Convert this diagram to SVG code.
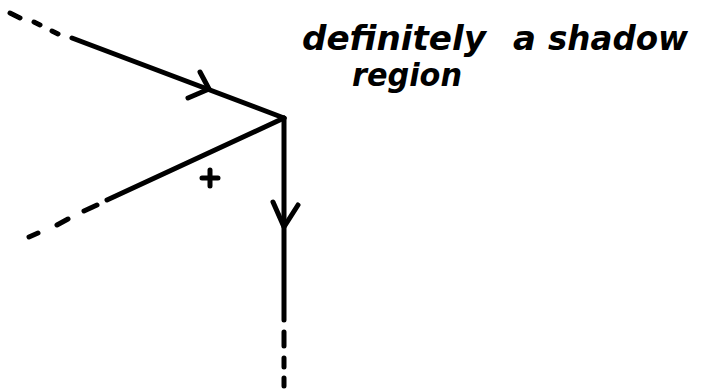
<svg xmlns="http://www.w3.org/2000/svg" width="701" height="390" viewBox="0 0 701 390">
<style>
.ln{stroke:#000;stroke-width:5;fill:none;stroke-linecap:round;stroke-linejoin:round}
.hw{font-family:"DejaVu Sans","Liberation Sans",sans-serif;font-style:italic;font-weight:bold;fill:#000}
</style>
<rect width="701" height="390" fill="#fff"/>
<g id="connectors">
<path class="ln" d="M10 13L20 18M34 22L40 25M52 31L58 34M72 38L284 118"/>
<path class="ln" d="M200 72L209 89L188 98"/>
<path class="ln" d="M284 118L107 200M97 205L84 211M68 219L57 225M38 233L29 237"/>
<path class="ln" d="M284 118L284 320M284 332L284 346M284 358L284 367M284 378L284 386"/>
<path class="ln" d="M273 202L284 227L298 205"/>
</g>
<g id="plus"><path class="ln" d="M202 178L218 178M210 170L210 186"/></g>
<g id="label">
<text class="hw" x="302" y="50" font-size="34" textLength="184" lengthAdjust="spacingAndGlyphs">definitely</text>
<text class="hw" x="513" y="50" font-size="34">a</text>
<text class="hw" x="548" y="50" font-size="34" textLength="140" lengthAdjust="spacingAndGlyphs">shadow</text>
<text class="hw" x="352" y="86" font-size="32" textLength="110" lengthAdjust="spacingAndGlyphs">region</text>
</g>
</svg>
